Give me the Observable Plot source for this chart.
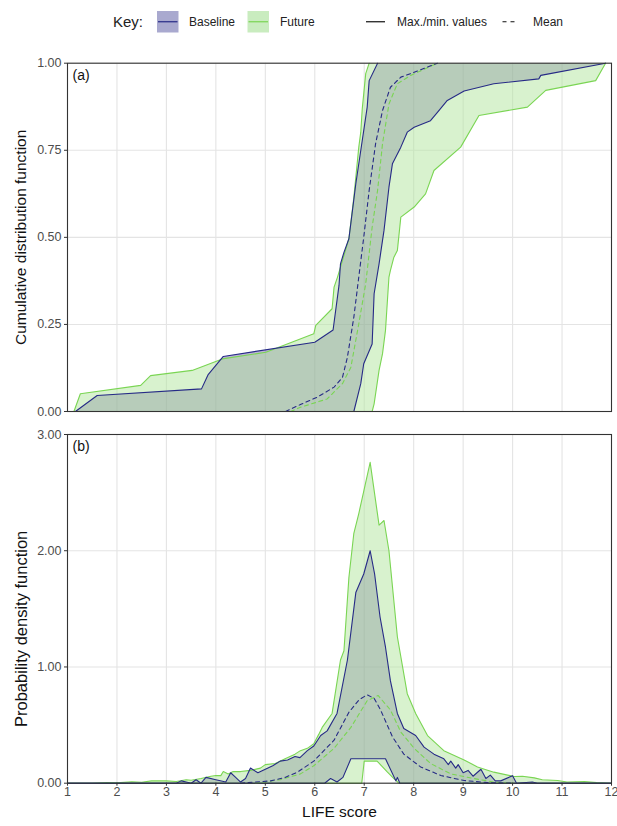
<!DOCTYPE html>
<html><head><meta charset="utf-8">
<script src="https://cdn.jsdelivr.net/npm/d3@7"></script>
<script src="https://cdn.jsdelivr.net/npm/@observablehq/plot@0.6"></script>
<style>
body{margin:0;background:#fff;font-family:"Liberation Sans",Arial,sans-serif;}
#wrap{width:617px;}
#wrap svg{display:block;}
</style></head><body><div id="wrap"><div id="legend"></div><div id="a"></div><div id="b"></div></div>
<script>
// ---------- Panel (a): cumulative distribution function ----------
const cdfBaselineMax = [[1.16,0],[1.60,0.046],[3.71,0.065],[3.84,0.105],[4.15,0.158],[6.00,0.199],[6.37,0.234],[6.49,0.362],[6.52,0.424],[6.59,0.457],[6.69,0.496],[6.83,0.654],[6.96,0.778],[7.06,0.874],[7.10,0.95],[7.27,1.0]];
const cdfBaselineMin = [[6.79,0],[6.93,0.08],[6.99,0.137],[7.16,0.194],[7.20,0.338],[7.30,0.424],[7.40,0.52],[7.50,0.644],[7.57,0.711],[7.74,0.759],[7.87,0.802],[8.01,0.816],[8.34,0.835],[8.48,0.859],[8.68,0.893],[9.02,0.92],[9.62,0.941],[10.53,0.955],[10.57,0.965],[11.88,1.0]];
const cdfFutureMax = [[1.13,0],[1.26,0.051],[2.48,0.075],[2.68,0.103],[3.52,0.118],[4.13,0.151],[5.01,0.170],[5.98,0.223],[6.02,0.247],[6.35,0.295],[6.39,0.357],[6.46,0.386],[6.69,0.496],[6.79,0.615],[6.89,0.759],[6.93,0.802],[6.96,0.869],[7.03,0.970],[7.10,1.0]];
const cdfFutureMin = [[7.16,0],[7.20,0.022],[7.30,0.118],[7.37,0.166],[7.43,0.233],[7.50,0.386],[7.53,0.405],[7.60,0.443],[7.67,0.462],[7.74,0.558],[8.01,0.587],[8.24,0.625],[8.41,0.692],[8.95,0.759],[9.32,0.85],[10.30,0.874],[10.67,0.922],[11.68,0.95],[11.88,1.0]];
const cdfBaselineMean = [[5.41,0],[5.71,0.02],[6.05,0.041],[6.39,0.07],[6.56,0.098],[6.66,0.156],[6.79,0.271],[6.89,0.386],[6.99,0.5],[7.10,0.635],[7.23,0.769],[7.37,0.864],[7.53,0.931],[7.74,0.96],[8.01,0.974],[8.48,1.0]];
const cdfFutureMean = [[5.51,0],[5.71,0.012],[6.25,0.036],[6.56,0.08],[6.73,0.127],[6.89,0.252],[7.03,0.367],[7.16,0.529],[7.27,0.635],[7.37,0.769],[7.50,0.883],[7.67,0.941],[7.94,0.965],[8.31,0.989],[8.48,1.0]];

// ---------- Panel (b): probability density function ----------
const pdfFutureMax = [[1.0,0],[1.5,0],[1.8,0.005],[2.0,0.003],[2.3,0.012],[2.5,0.008],[2.7,0.02],[3.0,0.02],[3.2,0.015],[3.4,0.03],[3.5,0.025],[3.7,0.04],[3.9,0.06],[4.0,0.066],[4.1,0.065],[4.15,0.1],[4.25,0.08],[4.35,0.1],[4.5,0.1],[4.7,0.11],[4.9,0.13],[5.0,0.16],[5.2,0.17],[5.4,0.21],[5.6,0.25],[5.71,0.28],[5.85,0.30],[5.98,0.34],[6.08,0.42],[6.15,0.48],[6.35,0.60],[6.52,1.06],[6.59,1.14],[6.69,1.77],[6.79,2.15],[6.89,2.32],[7.12,2.76],[7.30,2.22],[7.40,2.26],[7.50,2.0],[7.67,1.26],[7.87,0.77],[8.04,0.60],[8.28,0.41],[8.61,0.28],[9.02,0.20],[9.29,0.14],[9.62,0.095],[10.03,0.058],[10.2,0.06],[10.44,0.046],[10.6,0.03],[10.91,0.023],[11.1,0.01],[11.45,0.015],[11.7,0.005],[12,0]];
const pdfFutureMin = [[1,0],[6.95,0],[7.0,0.19],[7.26,0.19],[7.47,0.095],[7.60,0.04],[7.7,0],[12,0]];
const pdfBaselineMax = [[1,0],[3.2,0],[3.3,0.02],[3.4,0.01],[3.5,0],[3.6,0.03],[3.7,0],[3.8,0.05],[4.0,0.03],[4.2,0.01],[4.3,0.09],[4.4,0.05],[4.5,0.01],[4.6,0.04],[4.7,0.13],[4.85,0.09],[5.0,0.12],[5.15,0.15],[5.3,0.19],[5.45,0.2],[5.6,0.23],[5.7,0.22],[5.85,0.28],[5.98,0.32],[6.12,0.41],[6.25,0.45],[6.45,0.60],[6.66,1.06],[6.83,1.64],[6.99,1.80],[7.12,2.0],[7.21,1.80],[7.32,1.43],[7.43,1.17],[7.53,0.88],[7.67,0.60],[7.80,0.47],[8.04,0.41],[8.21,0.31],[8.41,0.25],[8.61,0.21],[8.7,0.16],[8.75,0.19],[8.85,0.13],[8.9,0.16],[9.0,0.09],[9.1,0.11],[9.2,0.06],[9.36,0.12],[9.46,0.04],[9.55,0.07],[9.65,0.02],[9.76,0.02],[10.0,0.065],[10.08,0],[10.4,0.01],[10.5,0],[12,0]];
const pdfBaselineMin = [[1,0],[6.2,0],[6.32,0.04],[6.45,0.01],[6.57,0.05],[6.73,0.21],[7.43,0.21],[7.64,0.02],[7.67,0.05],[7.72,0],[12,0]];
const pdfBaselineMean = [[4.5,0],[5.11,0.02],[5.4,0.05],[5.65,0.095],[5.98,0.19],[6.39,0.37],[6.69,0.61],[6.9,0.72],[7.06,0.76],[7.2,0.73],[7.33,0.63],[7.57,0.40],[7.80,0.25],[8.14,0.14],[8.55,0.066],[9.02,0.023],[9.5,0.005],[10,0]];
const pdfFutureMean = [[4.8,0],[5.3,0.03],[5.71,0.08],[5.98,0.15],[6.39,0.30],[6.73,0.48],[7.06,0.71],[7.28,0.755],[7.53,0.63],[7.74,0.44],[8.01,0.30],[8.34,0.17],[8.75,0.08],[9.22,0.04],[9.62,0.01],[10,0]];

const xTicks = [1,2,3,4,5,6,7,8,9,10,11,12];
const cdfTicks = [0,0.25,0.5,0.75,1];
const pdfTicks = [0,1,2,3];
const legendItems = ["Baseline","Future"];
const legendStyles = ["Max./min. values","Mean"];

const navy = "#262a86", green = "#7ad553";
const baseFill = "#42268d", futFill = "#b1e59d";
const font = "Liberation Sans, Arial, sans-serif";

const poly = (upper, lower) => upper.concat(lower.slice().reverse());

function panel(opts) {
  const {height, mt, mb, yDomain, yTicks, cdf, label, ylab, ylabDy, ylabSize, showX} = opts;
  return Plot.plot({
    width: 617, height, marginLeft: 67, marginRight: 6, marginTop: mt, marginBottom: mb,
    style: {fontFamily: font, background: "#fff", overflow: "visible"},
    x: {domain: [1, 12], axis: null},
    y: {domain: yDomain, axis: null},
    marks: [
      Plot.gridX(xTicks, {stroke: "#e4e4e4", strokeOpacity: 1, strokeWidth: 1.1}),
      Plot.gridY(yTicks, {stroke: "#e4e4e4", strokeOpacity: 1, strokeWidth: 1.1}),
      Plot.line(poly(cdf.bMax, cdf.bMin), {x: d => d[0], y: d => d[1], fill: baseFill, fillOpacity: 0.35, stroke: "none"}),
      Plot.line(poly(cdf.fMax, cdf.fMin), {x: d => d[0], y: d => d[1], fill: futFill, fillOpacity: 0.5, stroke: "none"}),
      Plot.line(cdf.fMax, {x: d => d[0], y: d => d[1], stroke: green, strokeWidth: 1.1}),
      Plot.line(cdf.fMin, {x: d => d[0], y: d => d[1], stroke: green, strokeWidth: 1.1}),
      Plot.line(cdf.bMax, {x: d => d[0], y: d => d[1], stroke: navy, strokeWidth: 1.1}),
      Plot.line(cdf.bMin, {x: d => d[0], y: d => d[1], stroke: navy, strokeWidth: 1.1}),
      Plot.line(cdf.fMean, {x: d => d[0], y: d => d[1], stroke: green, strokeWidth: 1.1, strokeDasharray: "4,3.5"}),
      Plot.line(cdf.bMean, {x: d => d[0], y: d => d[1], stroke: navy, strokeWidth: 1.1, strokeDasharray: "4,3.5"}),
      Plot.frame({stroke: "#333", strokeWidth: 1.1}),
      Plot.axisY(yTicks, {tickSize: 3, tickPadding: 3, stroke: "#333", fill: "#4d4d4d", fontSize: 12.5, tickFormat: d3.format(".2f"), label: null}),
      showX ? Plot.axisX(xTicks, {tickSize: 3, tickPadding: 1, stroke: "#333", fill: "#4d4d4d", fontSize: 12.5, tickFormat: d => String(d), label: null}) : null,
      Plot.text([label], {frameAnchor: "top-left", dx: 5, dy: 7, fontSize: 14, fill: "#111", lineAnchor: "top"}),
      Plot.text([ylab], {frameAnchor: "left", dx: -46, dy: ylabDy, rotate: -90, fontSize: ylabSize, fill: "#111", textAnchor: "middle", lineAnchor: "middle"}),
      showX ? Plot.text(["LIFE score"], {frameAnchor: "bottom", dy: 29, fontSize: 15.5, fill: "#111", lineAnchor: "middle"}) : null
    ]
  });
}

document.getElementById("a").append(panel({
  height: 370, mt: 12.7, mb: 9, yDomain: [0, 1], yTicks: cdfTicks,
  cdf: {bMax: cdfBaselineMax, bMin: cdfBaselineMin, fMax: cdfFutureMax, fMin: cdfFutureMin, bMean: cdfBaselineMean, fMean: cdfFutureMean},
  label: "(a)", ylab: "Cumulative distribution function", ylabDy: 0, ylabSize: 15.5, showX: false
}));
document.getElementById("b").append(panel({
  height: 406, mt: 14, mb: 43.3, yDomain: [0, 3], yTicks: pdfTicks,
  cdf: {bMax: pdfBaselineMax, bMin: pdfBaselineMin, fMax: pdfFutureMax, fMin: pdfFutureMin, bMean: pdfBaselineMean, fMean: pdfFutureMean},
  label: "(b)", ylab: "Probability density function", ylabDy: 20, ylabSize: 16.5, showX: true
}));

// ---------- Legend (top) ----------
const svg = d3.select("#legend").append("svg").attr("width", 617).attr("height", 50)
  .style("font-family", font);
svg.append("text").attr("x", 113).attr("y", 22).attr("dy", "0.35em").attr("font-size", 15).attr("fill", "#222").text("Key:");
const sw = [{x: 157, fill: "#a9a9cf", line: navy, label: legendItems[0], tx: 189},
            {x: 247.5, fill: "#c9ecbf", line: green, label: legendItems[1], tx: 280}];
for (const s of sw) {
  svg.append("rect").attr("x", s.x).attr("y", 11).attr("width", 21.5).attr("height", 21.5).attr("fill", s.fill);
  svg.append("line").attr("x1", s.x + 1).attr("x2", s.x + 20.5).attr("y1", 21.75).attr("y2", 21.75).attr("stroke", s.line).attr("stroke-width", 1.2);
  svg.append("text").attr("x", s.tx).attr("y", 22).attr("dy", "0.35em").attr("font-size", 12).attr("fill", "#222").text(s.label);
}
svg.append("line").attr("x1", 366).attr("x2", 385).attr("y1", 21.75).attr("y2", 21.75).attr("stroke", "#111").attr("stroke-width", 1.2);
svg.append("text").attr("x", 397).attr("y", 22).attr("dy", "0.35em").attr("font-size", 12).attr("fill", "#222").text(legendStyles[0]);
svg.append("line").attr("x1", 502.5).attr("x2", 518.5).attr("y1", 21.75).attr("y2", 21.75).attr("stroke", "#111").attr("stroke-width", 1.2).attr("stroke-dasharray", "4,4");
svg.append("text").attr("x", 533).attr("y", 22).attr("dy", "0.35em").attr("font-size", 12).attr("fill", "#222").text(legendStyles[1]);
</script>
</body></html>
